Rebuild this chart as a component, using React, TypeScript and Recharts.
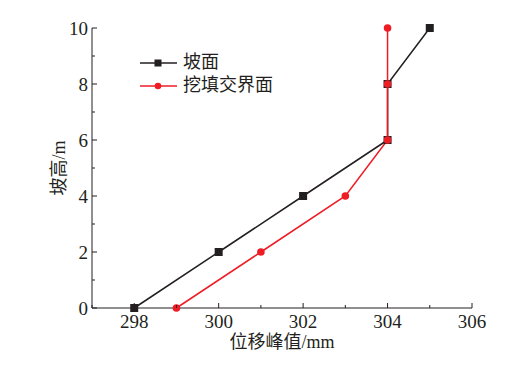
import React from 'react';
import { LineChart, Line, XAxis, YAxis } from 'recharts';

// 坡面
const slopeX = [298, 300, 302, 304, 304, 305];
const slopeY = [0, 2, 4, 6, 8, 10];
// 挖填交界面
const boundaryX = [299, 301, 303, 304, 304, 304];
const boundaryY = [0, 2, 4, 6, 8, 10];

const xTicks = [297, 298, 299, 300, 301, 302, 303, 304, 305, 306];
const yTicks = [0, 1, 2, 3, 4, 5, 6, 7, 8, 9, 10];
const xLabeled = [298, 300, 302, 304, 306];
const yLabeled = [0, 2, 4, 6, 8, 10];

const slopeData = slopeX.map((x, i) => ({ x, y: slopeY[i] }));
const boundaryData = boundaryX.map((x, i) => ({ x, y: boundaryY[i] }));

const FONT = '"Liberation Serif", "Noto Sans CJK SC", serif';
const BLACK = '#231f20';
const RED = '#ee1c25';

function XTick(props: any) {
  const { x, y, payload } = props;
  const major = xLabeled.includes(payload.value);
  return (
    <g>
      <line x1={x} x2={x} y1={y} y2={y - (major ? 5 : 3)} stroke={BLACK} strokeWidth={1} />
      {major && (
        <text x={x} y={y + 20} textAnchor="middle" fill={BLACK} fontSize={19} fontFamily={FONT}>
          {payload.value}
        </text>
      )}
    </g>
  );
}

function YTick(props: any) {
  const { x, y, payload } = props;
  const major = yLabeled.includes(payload.value);
  return (
    <g>
      <line x1={x} x2={x + (major ? 5 : 3)} y1={y} y2={y} stroke={BLACK} strokeWidth={1} />
      {major && (
        <text x={x - 4} y={y + 6.5} textAnchor="end" fill={BLACK} fontSize={19} fontFamily={FONT}>
          {payload.value}
        </text>
      )}
    </g>
  );
}

function SquareDot(props: any) {
  const { cx, cy } = props;
  if (cx == null || cy == null) return null;
  return <rect x={cx - 4} y={cy - 4} width={8} height={8} fill={BLACK} />;
}

function CircleDot(props: any) {
  const { cx, cy } = props;
  if (cx == null || cy == null) return null;
  return <circle cx={cx} cy={cy} r={3.8} fill={RED} />;
}

function LegendBox() {
  const items = [
    { name: '坡面', color: BLACK, square: true },
    { name: '挖填交界面', color: RED, square: false },
  ];
  return (
    <div
      style={{
        position: 'absolute',
        left: 139,
        top: 51,
        fontFamily: FONT,
        fontSize: 18,
        color: BLACK,
        lineHeight: '23px',
      }}
    >
      {items.map((it) => (
        <div key={it.name} style={{ display: 'flex', alignItems: 'center', height: 23 }}>
          <svg width={40} height={12}>
            <line x1={1} x2={38} y1={6} y2={6} stroke={it.color} strokeWidth={1.5} />
            {it.square ? (
              <rect x={15.5} y={2.5} width={7} height={7} fill={it.color} />
            ) : (
              <circle cx={19} cy={6} r={3.3} fill={it.color} />
            )}
          </svg>
          <span style={{ marginLeft: 4, whiteSpace: 'nowrap' }}>{it.name}</span>
        </div>
      ))}
    </div>
  );
}

export default function App() {
  return (
    <div style={{ position: 'absolute', left: 0, top: 0, width: 529, height: 366, background: '#fff' }}>
      <LineChart width={529} height={366} margin={{ top: 28, right: 57, left: 52, bottom: 28 }}>
        <XAxis
          type="number"
          dataKey="x"
          domain={[297, 306]}
          ticks={xTicks}
          interval={0}
          allowDuplicatedCategory={false}
          height={30}
          tickSize={0}
          tickMargin={0}
          tickLine={false}
          axisLine={{ stroke: BLACK, strokeWidth: 1 }}
          tick={<XTick />}
        />
        <YAxis
          type="number"
          dataKey="y"
          domain={[0, 10]}
          ticks={yTicks}
          interval={0}
          width={40}
          tickSize={0}
          tickMargin={0}
          tickLine={false}
          axisLine={{ stroke: BLACK, strokeWidth: 1 }}
          tick={<YTick />}
        />
        <Line
          data={slopeData}
          dataKey="y"
          type="linear"
          stroke={BLACK}
          strokeWidth={1.5}
          dot={<SquareDot />}
          activeDot={false}
          isAnimationActive={false}
        />
        <Line
          data={boundaryData}
          dataKey="y"
          type="linear"
          stroke={RED}
          strokeWidth={1.5}
          dot={<CircleDot />}
          activeDot={false}
          isAnimationActive={false}
        />
        <text x={282} y={348} textAnchor="middle" fill={BLACK} fontSize={18} fontFamily={FONT}>
          位移峰值/mm
        </text>
        <text
          x={65}
          y={168}
          textAnchor="middle"
          fill={BLACK}
          fontSize={18}
          fontFamily={FONT}
          transform="rotate(-90 65 168)"
        >
          坡高/m
        </text>
      </LineChart>
      <LegendBox />
    </div>
  );
}
